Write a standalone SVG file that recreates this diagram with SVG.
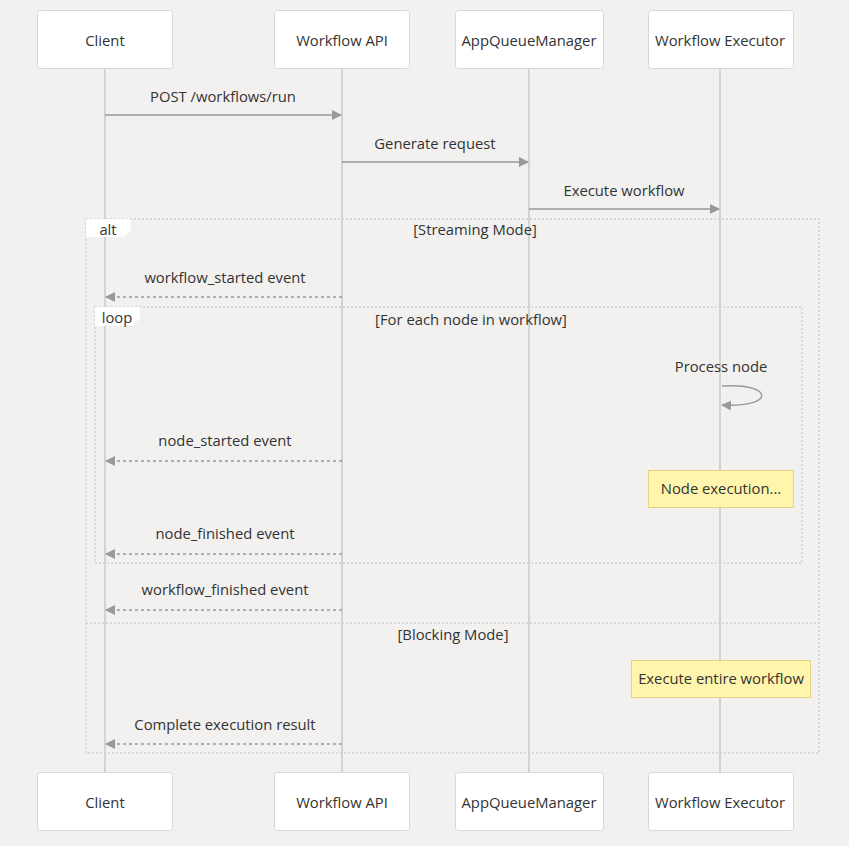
<svg xmlns="http://www.w3.org/2000/svg" width="849" height="846" viewBox="0 0 849 846">
<defs>
<style>
text{font-family:"Open Sans","Liberation Sans",sans-serif;font-size:14.8px;fill:#333;}
.t{text-anchor:middle;}
.actor{fill:#fff;stroke:#d8d8d8;stroke-width:1;}
.life{stroke:#c8c8c8;stroke-width:1.5;}
.msg{stroke:#999;stroke-width:1.5;fill:none;}
.dash{stroke-dasharray:3,3;}
.frame{fill:none;stroke:#cfcfcf;stroke-width:1.5;stroke-dasharray:2,2;}
.lab{fill:#fff;stroke:none;}
.note{fill:#fff5ad;stroke:#e6d280;stroke-width:1;}
</style>
<marker id="ah" viewBox="0 0 10 10" refX="9" refY="5" markerWidth="10" markerHeight="10" markerUnits="userSpaceOnUse" orient="auto">
<path d="M0,0 L10,5 L0,10 z" fill="#999"/>
</marker>
</defs>
<rect width="849" height="846" fill="#f2f1f0"/>
<g id="lifelines">
<line class="life" x1="105" y1="68" x2="105" y2="772"/>
<line class="life" x1="342" y1="68" x2="342" y2="772"/>
<line class="life" x1="529" y1="68" x2="529" y2="772"/>
<line class="life" x1="720" y1="68" x2="720" y2="772"/>
</g>
<g id="actor-client"><rect class="actor" x="37.5" y="10.5" width="135" height="58" rx="3"/><text class="t" x="105" y="46">Client</text></g>
<g id="actor-api"><rect class="actor" x="274.5" y="10.5" width="135" height="58" rx="3"/><text class="t" x="342" y="46">Workflow API</text></g>
<g id="actor-aqm"><rect class="actor" x="455.5" y="10.5" width="148" height="58" rx="3"/><text class="t" x="529" y="46">AppQueueManager</text></g>
<g id="actor-exec"><rect class="actor" x="648.5" y="10.5" width="145" height="58" rx="3"/><text class="t" x="720" y="46">Workflow Executor</text></g>
<g id="actor-client-bottom"><rect class="actor" x="37.5" y="772.5" width="135" height="58" rx="3"/><text class="t" x="105" y="808">Client</text></g>
<g id="actor-api-bottom"><rect class="actor" x="274.5" y="772.5" width="135" height="58" rx="3"/><text class="t" x="342" y="808">Workflow API</text></g>
<g id="actor-aqm-bottom"><rect class="actor" x="455.5" y="772.5" width="148" height="58" rx="3"/><text class="t" x="529" y="808">AppQueueManager</text></g>
<g id="actor-exec-bottom"><rect class="actor" x="648.5" y="772.5" width="145" height="58" rx="3"/><text class="t" x="720" y="808">Workflow Executor</text></g>
<g id="frames">
<rect class="frame" x="86" y="219" width="733" height="534"/>
<path class="lab" d="M86,219 H131 V230 L124,237 H86 Z"/>
<text class="t" x="108" y="235">alt</text>
<text class="t" x="475" y="235">[Streaming Mode]</text>
<rect class="frame" x="95" y="307" width="707" height="256"/>
<path class="lab" d="M95,307 H140 V318 L133,326 H95 Z"/>
<text class="t" x="117" y="323">loop</text>
<text class="t" x="471" y="325">[For each node in workflow]</text>
<line class="frame" x1="86" y1="623" x2="819" y2="623"/>
<text class="t" x="453" y="640">[Blocking Mode]</text>
</g>
<g id="notes">
<g id="note-node-exec"><rect class="note" x="648.5" y="470.5" width="145" height="37"/><text class="t" x="721" y="494">Node execution...</text></g>
<g id="note-entire"><rect class="note" x="631.5" y="660.5" width="179" height="37"/><text class="t" x="721" y="684">Execute entire workflow</text></g>
</g>
<g id="connectors">
<line class="msg" x1="105" y1="115" x2="341" y2="115" marker-end="url(#ah)"/>
<text class="t" x="223" y="102">POST /workflows/run</text>
<line class="msg" x1="342" y1="162" x2="528" y2="162" marker-end="url(#ah)"/>
<text class="t" x="435" y="149">Generate request</text>
<line class="msg" x1="529" y1="209" x2="719" y2="209" marker-end="url(#ah)"/>
<text class="t" x="624" y="196">Execute workflow</text>
<line class="msg dash" x1="342" y1="297" x2="106" y2="297" marker-end="url(#ah)"/>
<text class="t" x="225" y="283">workflow_started event</text>
<text class="t" x="721" y="372">Process node</text>
<path class="msg" d="M722,386 C775,383 775,408 722,405" marker-end="url(#ah)"/>
<line class="msg dash" x1="342" y1="461" x2="106" y2="461" marker-end="url(#ah)"/>
<text class="t" x="225" y="446">node_started event</text>
<line class="msg dash" x1="342" y1="554" x2="106" y2="554" marker-end="url(#ah)"/>
<text class="t" x="225" y="539">node_finished event</text>
<line class="msg dash" x1="342" y1="610" x2="106" y2="610" marker-end="url(#ah)"/>
<text class="t" x="225" y="595">workflow_finished event</text>
<line class="msg dash" x1="342" y1="744" x2="106" y2="744" marker-end="url(#ah)"/>
<text class="t" x="225" y="730">Complete execution result</text>
</g>
</svg>
